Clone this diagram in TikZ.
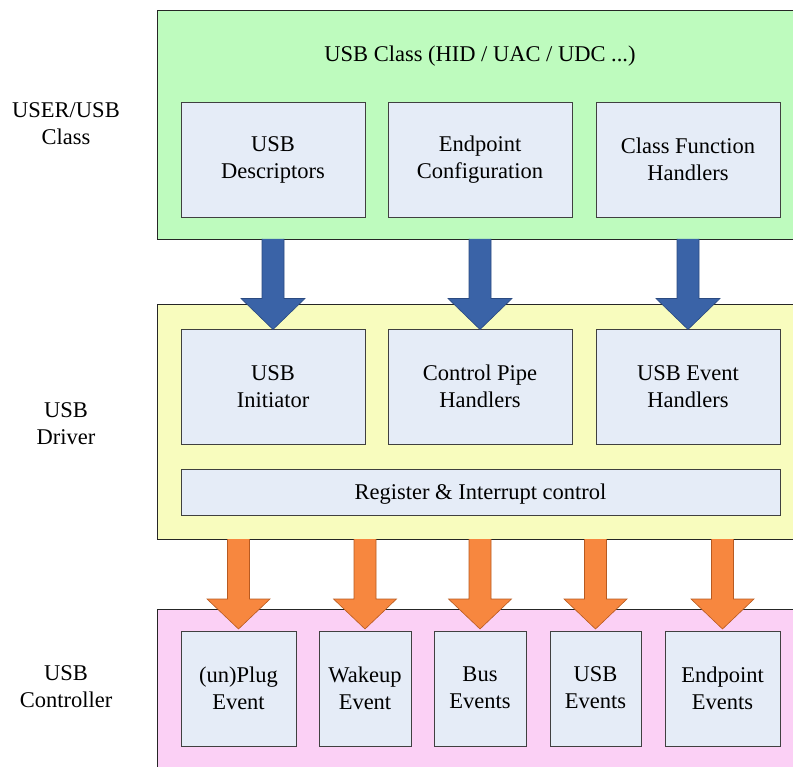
\documentclass[tikz,border=0pt]{standalone}
\usepackage{fontspec}
\setmainfont{Liberation Serif}
\usetikzlibrary{calc}
\definecolor{grn}{HTML}{BEFBBE}
\definecolor{ylw}{HTML}{F8FCBE}
\definecolor{pnk}{HTML}{FBD0F5}
\definecolor{inr}{HTML}{E5ECF7}
\definecolor{blu}{HTML}{3A63A7}
\definecolor{bluedge}{HTML}{2A4A80}
\definecolor{orn}{HTML}{F7873F}
\definecolor{ornedge}{HTML}{B85A20}
\begin{document}
\begin{tikzpicture}[x=1pt,y=-1pt,
  every node/.style={font=\fontsize{22.5}{27}\selectfont, inner sep=0pt, outer sep=0pt, align=center,
    execute at begin node=\rule{0pt}{20pt}, execute at end node=\rule[-1.2pt]{0pt}{1.2pt}},
  outerbox/.style={draw=black!85, line width=0.8pt, anchor=north west},
  innerbox/.style={draw=black!75, line width=0.8pt, fill=inr, minimum height=115pt},
  bigbox/.style={innerbox, minimum width=184pt},
  smallbox/.style={innerbox, minimum width=92pt},
  bluearrow/.style={fill=blu, draw=bluedge, line width=0.6pt, line join=miter},
  ornarrow/.style={fill=orn, draw=ornedge, line width=0.6pt, line join=miter}]
\useasboundingbox (0,0) rectangle (793,767);
\clip (0,0) rectangle (793,767);

% outer layers
\node[outerbox, fill=grn, minimum width=650pt, minimum height=229pt] (cls) at (157,10) {};
\node[outerbox, fill=ylw, minimum width=650pt, minimum height=235pt] (drv) at (157,304) {};
\node[outerbox, fill=pnk, minimum width=650pt, minimum height=200pt] (ctl) at (157,609) {};

% left labels
\node (lcls) at (66,124) {USER/USB\\Class};
\node (ldrv) at (66,424) {USB\\Driver};
\node (lctl) at (66,687) {USB\\Controller};

% class layer
\node (title) at (480,54) {USB Class (HID / UAC / UDC ...)};
\node[bigbox] (desc) at (273,159.5) {USB\\Descriptors};
\node[bigbox] (epcfg) at (480,159.5) {Endpoint\\Configuration};
\node[bigbox] (cfh) at (688,159.5) {Class Function\\Handlers};

% driver layer
\node[bigbox] (init) at (273,387) {USB\\Initiator};
\node[bigbox] (cph) at (480,387) {Control Pipe\\Handlers};
\node[bigbox] (ueh) at (688,387) {USB Event\\Handlers};
\node[innerbox, minimum width=599pt, minimum height=46pt] (reg) at (480.5,492) {Register \& Interrupt control};

% controller layer
\node[innerbox, minimum width=115pt] (plug) at (238.5,688.5) {(un)Plug\\Event};
\node[smallbox] (wake) at (365,688.5) {Wakeup\\Event};
\node[smallbox] (bus) at (480,688.5) {Bus\\Events};
\node[innerbox, minimum width=91pt] (usbev) at (595.5,688.5) {USB\\Events};
\node[innerbox, minimum width=115pt] (epev) at (722.5,688.5) {Endpoint\\Events};

% blue arrows: class -> driver
\foreach \a/\b in {desc/init, epcfg/cph, cfh/ueh}{
  \draw[bluearrow] let \p1=(\a.south|-cls.south), \p2=(\b.north) in
    (\x1-11pt,\y1) -- (\x1-11pt,\y2+31pt) -- (\x1-32pt,\y2+31pt) -- (\x2,\y2)
    -- (\x1+32pt,\y2+31pt) -- (\x1+11pt,\y2+31pt) -- (\x1+11pt,\y1);
}

% orange arrows: driver -> controller
\foreach \b in {plug, wake, bus, usbev, epev}{
  \draw[ornarrow] let \p1=(\b.north|-drv.south), \p2=(\b.north) in
    (\x1-11pt,\y1) -- (\x1-11pt,\y2+32pt) -- (\x1-31.5pt,\y2+32pt) -- (\x2,\y2+2pt)
    -- (\x1+31.5pt,\y2+32pt) -- (\x1+11pt,\y2+32pt) -- (\x1+11pt,\y1);
}
\end{tikzpicture}
\end{document}
